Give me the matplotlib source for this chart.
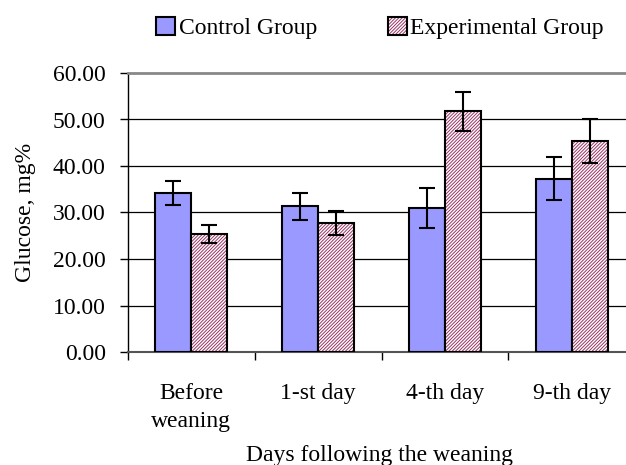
import numpy as np
import matplotlib
matplotlib.use("Agg")
import matplotlib.pyplot as plt
from matplotlib.patches import Patch
from matplotlib.legend_handler import HandlerTuple

categories = ["Before\nweaning", "1-st day", "4-th day", "9-th day"]
control = [34.2, 31.3, 30.9, 37.3]
control_err = [2.65, 3.0, 4.3, 4.7]
experimental = [25.4, 27.8, 51.8, 45.4]
experimental_err = [2.0, 2.6, 4.2, 4.7]
yticks = [0, 10, 20, 30, 40, 50, 60]

plt.rcParams['font.family'] = ['Liberation Serif', 'DejaVu Serif']
plt.rcParams['hatch.linewidth'] = 0.7

fs = 17

fig = plt.figure(figsize=(6.26, 4.65), dpi=100)
ax = fig.add_axes([128 / 626, 113 / 465, 507 / 626, 279 / 465])

x = np.arange(len(categories))
w = 0.284
blue = "#9999FF"
hatch_col = "#993366"

# control bars
ax.bar(x - w / 2, control, w, color=blue, edgecolor="black", linewidth=1.5, zorder=3)
# experimental bars: hatch layer, then black outline
ax.bar(x + w / 2, experimental, w, color="white", edgecolor=hatch_col, hatch="//////////",
       linewidth=0, zorder=3)
ax.bar(x + w / 2, experimental, w, fill=False, edgecolor="black", linewidth=1.5, zorder=4)

ax.errorbar(x - w / 2, control, yerr=control_err, fmt="none", ecolor="black",
            elinewidth=1.5, capsize=5.5, capthick=1.5, zorder=5)
ax.errorbar(x + w / 2, experimental, yerr=experimental_err, fmt="none", ecolor="black",
            elinewidth=1.5, capsize=5.5, capthick=1.5, zorder=5)

ax.set_xlim(-0.5, 3.5)
ax.set_ylim(0, 60)
ax.set_yticks(yticks)
ax.set_yticklabels([f"{v:.2f}" for v in yticks])
for v in yticks[1:-1]:
    ax.axhline(v, color="black", linewidth=0.9, zorder=1)

ax.set_xticks(x)
ax.set_xticklabels(categories, linespacing=1.45)
ax.set_xticks(np.arange(-0.5, 3.5, 1.0), minor=True)
ax.tick_params(axis="x", which="major", length=0, pad=22, labelsize=fs)
ax.tick_params(axis="x", which="minor", length=6, width=1, direction="out")
ax.tick_params(axis="y", length=6, width=1, direction="out", labelsize=fs, pad=10)

ax.spines["right"].set_visible(False)
ax.spines["top"].set_color("#888888")
ax.spines["top"].set_linewidth(2)
ax.spines["left"].set_linewidth(1)
ax.spines["bottom"].set_color("#555555")
ax.spines["bottom"].set_linewidth(1.5)

ax.set_ylabel("Glucose, mg%", fontsize=fs, labelpad=12)
fig.text(380 / 626, 1 - 455 / 465, "Days following the weaning", fontsize=fs,
         ha="center", va="center")

h1 = Patch(facecolor=blue, edgecolor="black", linewidth=1.5)
h2 = (Patch(facecolor="white", edgecolor=hatch_col, hatch="//////////", linewidth=0),
      Patch(fill=False, edgecolor="black", linewidth=1.5))
fig.legend([h1, h2], ["Control Group", "Experimental Group"], ncol=2,
           loc="center", bbox_to_anchor=(380 / 626, 1 - 28 / 465), frameon=False,
           fontsize=fs, handlelength=0.8, handleheight=0.8, handletextpad=0.15,
           columnspacing=3.0, handler_map={tuple: HandlerTuple(ndivide=1)})

fig.savefig("out.png", dpi=100)
